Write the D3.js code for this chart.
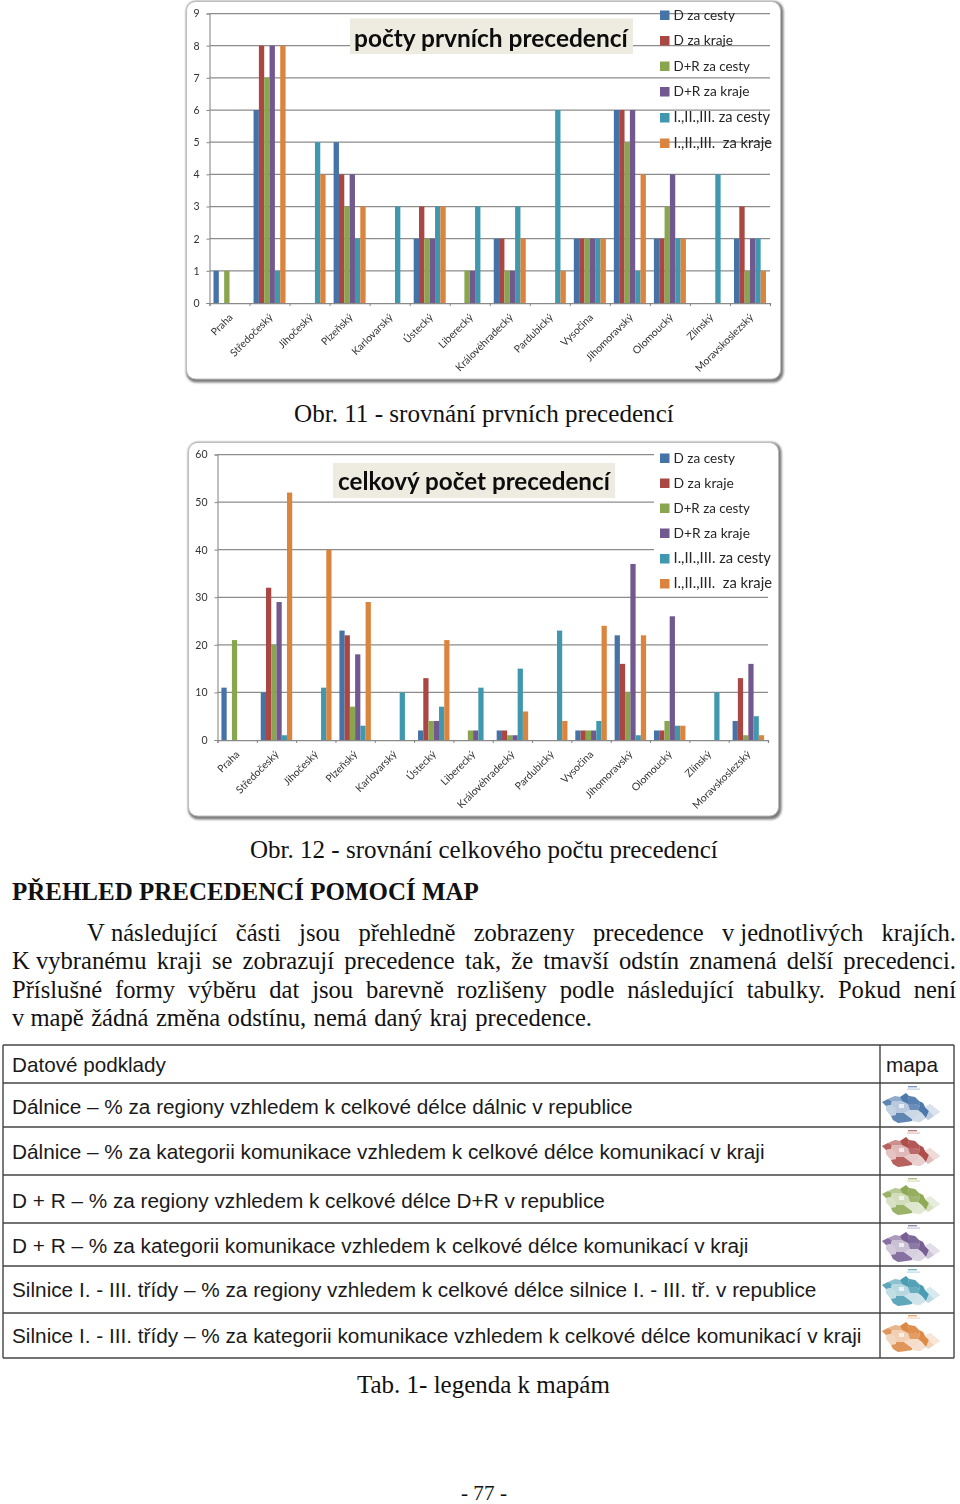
<!DOCTYPE html>
<html><head><meta charset="utf-8">
<script src="https://cdn.jsdelivr.net/npm/d3@7"></script>
<style>html,body{margin:0;padding:0;background:#fff}svg{display:block}</style>
</head><body><svg id="c" width="960" height="1504"></svg>
<script>
const categories=["Praha","Středočeský","Jihočeský","Plzeňský","Karlovarský","Ústecký","Liberecký","Královéhradecký","Pardubický","Vysočina","Jihomoravský","Olomoucký","Zlínský","Moravskoslezský"];
const seriesNames=["D za cesty","D za kraje","D+R za cesty","D+R za kraje","I.,II.,III. za cesty","I.,II.,III.  za kraje"];
const seriesColors=["#4572a7","#aa4643","#89a54e","#71588f","#4198af","#db843d"];
const firstDCesty=[1,6,0,5,0,2,0,2,0,2,6,2,0,2];
const firstDKraje=[0,8,0,4,0,3,0,2,0,2,6,2,0,3];
const firstDRCesty=[1,7,0,3,0,2,1,1,0,2,5,3,0,1];
const firstDRKraje=[0,8,0,4,0,2,1,1,0,2,6,4,0,2];
const firstICesty=[0,1,5,2,3,3,3,3,6,2,1,2,4,2];
const firstIKraje=[0,8,4,3,0,3,0,2,1,2,4,2,0,1];
const totalDCesty=[11,10,0,23,0,2,0,2,0,2,22,2,0,4];
const totalDKraje=[0,32,0,22,0,13,0,2,0,2,16,2,0,13];
const totalDRCesty=[21,20,0,7,0,4,2,1,0,2,10,4,0,1];
const totalDRKraje=[0,29,0,18,0,4,2,1,0,2,37,26,0,16];
const totalICesty=[0,1,11,3,10,7,11,15,23,4,1,3,10,5];
const totalIKraje=[0,52,40,29,0,21,0,6,4,24,22,3,0,1];
const tableRows=["Datové podklady","Dálnice – % za regiony vzhledem k celkové délce dálnic v republice","Dálnice – % za kategorii komunikace vzhledem k celkové délce komunikací v kraji","D + R – % za regiony vzhledem k celkové délce D+R v republice","D + R – % za kategorii komunikace vzhledem k celkové délce komunikací v kraji","Silnice I. - III. třídy – % za regiony vzhledem k celkové délce silnice I. - III. tř. v republice","Silnice I. - III. třídy – % za kategorii komunikace vzhledem k celkové délce komunikací v kraji"];
const bodyLines=["V\u00a0následující části jsou přehledně zobrazeny precedence v\u00a0jednotlivých krajích.","K\u00a0vybranému kraji se zobrazují precedence tak, že tmavší odstín znamená delší precedenci.","Příslušné formy výběru dat jsou barevně rozlišeny podle následující tabulky. Pokud není","v\u00a0mapě žádná změna odstínu, nemá daný kraj precedence."];
// rough outline of the regions in the little map icons, with the tone of each
const mapOutline=[[0,9],[6,6],[13,3],[18,4],[24,0],[27,3],[33,4],[37,8],[41,10],[43,14],[48,11],[58,19],[52,23],[46,27],[44,25],[38,29],[30,28],[24,29],[16,30],[11,27],[9,23],[4,17],[4,13]];
const mapRegions=[
{t:.85,p:[[0,9],[6,6],[10,8],[9,12],[4,13]]},
{t:.32,p:[[4,13],[9,12],[13,15],[14,20],[14,22],[9,23],[4,17]]},
{t:.6,p:[[6,6],[13,3],[18,4],[20,8],[10,8]]},
{t:.38,p:[[10,8],[20,8],[26,11],[28,17],[22,20],[14,20],[13,15],[9,12]]},
{t:.12,p:[[17,11],[22,11],[22,15],[17,15]]},
{t:.85,p:[[14,20],[22,20],[26,23],[30,26],[30,28],[24,29],[16,30],[11,27],[9,23],[14,22]]},
{t:.95,p:[[18,4],[24,0],[27,3],[26,7],[26,11],[20,8]]},
{t:.9,p:[[26,7],[27,3],[33,4],[37,8],[38,13],[33,11],[26,11]]},
{t:.8,p:[[26,11],[33,11],[38,13],[36,17],[28,17]]},
{t:.28,p:[[28,17],[36,17],[36,22],[30,26],[26,23],[22,20]]},
{t:.25,p:[[36,17],[40,20],[44,25],[38,29],[30,28],[30,26],[36,22]]},
{t:.95,p:[[37,8],[41,10],[43,14],[47,18],[44,25],[40,20],[36,17],[38,13]]},
{t:.35,p:[[47,18],[52,23],[46,27],[44,25]]},
{t:.2,p:[[43,14],[48,11],[58,19],[52,23],[47,18]]}];

const svg=d3.select("#c");
const defs=svg.append("defs");
defs.append("filter").attr("id","soft").attr("x","-20%").attr("y","-40%").attr("width","140%").attr("height","180%")
  .append("feGaussianBlur").attr("stdDeviation",.7);
defs.append("filter").attr("id","sh").attr("x","-5%").attr("y","-5%").attr("width","110%").attr("height","110%")
  .append("feGaussianBlur").attr("stdDeviation",.8);
defs.append("filter").attr("id","jpeg").attr("x","-2%").attr("y","-2%").attr("width","104%").attr("height","104%")
  .append("feGaussianBlur").attr("stdDeviation",.3);
const calibri="Lato,'Open Sans',sans-serif", serif="'Liberation Serif',serif", sans="'Liberation Sans',sans-serif";

function fitText(s,x0,x1,base,font,opt={}){
  const parent=opt.parent||svg;
  const t=parent.append("text").attr("x",x0).attr("y",base).attr("font-family",font).attr("font-size",20)
    .attr("font-weight",opt.weight||400).attr("fill",opt.fill||"#111").style("white-space","pre").text(s);
  const w=t.node().getComputedTextLength();
  t.attr("font-size",20*(x1-x0)/w);
  return t;
}
function chart(cfg){
  const g=svg.append("g").attr("filter","url(#jpeg)");
  g.append("rect").attr("x",cfg.fx0).attr("y",cfg.fy0).attr("width",cfg.fx1-cfg.fx0+1.5).attr("height",cfg.fy1-cfg.fy0+1.5).attr("rx",10).attr("fill","#7c7c7c").attr("filter","url(#sh)");
  g.append("rect").attr("x",cfg.fx0+.5).attr("y",cfg.fy0+.5).attr("width",cfg.fx1-cfg.fx0-2).attr("height",cfg.fy1-cfg.fy0-2.5).attr("rx",9).attr("fill","#fff").attr("stroke","#bdbdbd").attr("stroke-width",1);
  const y=d3.scaleLinear().domain([0,cfg.max]).range([cfg.y0,cfg.y1]);
  const x=d3.scaleBand().domain(categories).range([cfg.x0,cfg.x1]).paddingInner(.2).paddingOuter(.1);
  const xs=d3.scaleBand().domain(d3.range(6)).range([0,x.bandwidth()]);
  const ga=g.append("g").attr("transform",`translate(${cfg.x0},0)`)
    .call(d3.axisLeft(y).tickValues(d3.range(0,cfg.max+1,cfg.step)).tickSize(3).tickPadding(7));
  ga.selectAll("text").attr("font-family",calibri).attr("font-size",10.5).attr("fill","#333");
  ga.selectAll("line").attr("stroke","#858585");ga.select(".domain").attr("stroke","#8a8a8a").attr("stroke-width",1.1);
  g.append("g").selectAll("line").data(d3.range(cfg.step,cfg.max+1,cfg.step)).join("line")
    .attr("x1",cfg.x0).attr("x2",cfg.x1).attr("y1",d=>y(d)).attr("y2",d=>y(d)).attr("stroke","#8c8c8c").attr("stroke-width",1.25);
  if(cfg.legendBg) g.append("rect").attr("x",cfg.legendBg[0]).attr("y",cfg.legendBg[1]).attr("width",cfg.legendBg[2]).attr("height",cfg.legendBg[3]).attr("fill","#fff");
  cfg.series.forEach((vals,si)=>{
    g.append("g").selectAll("rect").data(vals.map((v,i)=>({v,c:categories[i]}))).join("rect")
      .attr("x",d=>x(d.c)+xs(si)).attr("width",xs.bandwidth()).attr("y",d=>y(d.v)).attr("height",d=>y(0)-y(d.v)).attr("fill",seriesColors[si]);
  });
  const xt=d3.scaleLinear().domain([0,categories.length]).range([cfg.x0,cfg.x1]);
  const gx=g.append("g").attr("transform",`translate(0,${cfg.y0})`).call(d3.axisBottom(xt).ticks(categories.length).tickSize(3).tickFormat(""));
  gx.selectAll("line").attr("stroke","#858585");gx.select(".domain").attr("stroke","#8a8a8a").attr("stroke-width",1.25);
  const gl=g.append("g").attr("transform",`translate(0,${cfg.y0})`).call(d3.axisBottom(x).tickSize(0).tickPadding(0));
  gl.select(".domain").remove();
  gl.selectAll("text").attr("font-family",calibri).attr("font-size",10.4).attr("fill","#333").attr("text-anchor","end").attr("dy",0).attr("y",0)
    .attr("transform",`translate(${cfg.lab[0]},${cfg.lab[1]}) rotate(-45)`);
  const [tx0,ty0,tx1,ty1]=cfg.titleBox;
  g.append("rect").attr("x",tx0).attr("y",ty0).attr("width",tx1-tx0).attr("height",ty1-ty0).attr("fill","#eeece1");
  fitText(cfg.title,cfg.titleX[0],cfg.titleX[1],cfg.titleBase,calibri,{weight:700,fill:"#0d0d0d",parent:g});
  seriesNames.forEach((n,i)=>{
    const ly=cfg.legendY[i];
    g.append("rect").attr("x",cfg.legX).attr("y",ly-4.5).attr("width",9.5).attr("height",9.5).attr("fill",seriesColors[i]);
    fitText(n,cfg.legX+13.5,cfg.legEnd[i],ly+4.5,calibri,{fill:"#262626",parent:g});
  });
}
chart({fx0:186,fy0:1,fx1:782,fy1:381,x0:209.5,x1:770,y0:303,y1:13.5,max:9,step:1,lab:[4,15],
  series:[firstDCesty,firstDKraje,firstDRCesty,firstDRKraje,firstICesty,firstIKraje],
  title:"počty prvních precedencí",titleBox:[350,18.5,633,54],titleX:[354,628],titleBase:47,
  legX:660,legendY:[15,40.5,66,91.5,117.5,143],legEnd:[735,733,750,749.5,770,772]});
chart({fx0:188,fy0:442,fx1:780,fy1:818,x0:217.5,x1:768,y0:740,y1:454.5,max:60,step:10,lab:[3,15],
  series:[totalDCesty,totalDKraje,totalDRCesty,totalDRKraje,totalICesty,totalIKraje],
  title:"celkový počet precedencí",titleBox:[333,463,615,498],titleX:[338,610],titleBase:490,
  legendBg:[654,446,118,150],
  legX:660,legendY:[458,483,508,533,558.5,583.5],legEnd:[735,734,750,750,771,772]});

fitText("Obr. 11 - srovnání prvních precedencí",294,674,422,serif);
fitText("Obr. 12 - srovnání celkového počtu precedencí",250,718,858,serif);
fitText("PŘEHLED PRECEDENCÍ POMOCÍ MAP",12,479,899.5,serif,{weight:700});
const bodySize=24.6;
[[87,956,941],[12,956,969],[12,956,998],[12,592,1026]].forEach(([a,b,base],i)=>{
  const words=bodyLines[i].split(" ");
  const els=words.map(w=>svg.append("text").attr("y",base).attr("font-family",serif).attr("font-size",bodySize).attr("fill","#111").text(w));
  const ws=els.map(e=>e.node().getComputedTextLength());
  const gap=(b-a-d3.sum(ws))/(words.length-1);
  let px=a;els.forEach((e,k)=>{e.attr("x",px);px+=ws[k]+gap;});
});
fitText("Tab. 1- legenda k mapám",357,610,1393,serif);
fitText("- 77 -",461,507,1500,serif);

const rowY=[1045,1083,1127,1175,1223,1266,1313,1358];
const tbl=svg.append("g").attr("stroke","#444");
rowY.forEach(v=>tbl.append("line").attr("x1",3).attr("x2",954).attr("y1",v).attr("y2",v).attr("stroke-width",1.4));
[3,880,954].forEach(v=>tbl.append("line").attr("x1",v).attr("x2",v).attr("y1",1045).attr("y2",1358).attr("stroke-width",1.4));
const rowBase=[1072,1114,1159,1208,1253,1297,1343], rowEnd=[166,633,765,605,749,817,862];
tableRows.forEach((r,i)=>fitText(r,12,rowEnd[i],rowBase[i],sans,{fill:"#1a1a1a"}));
fitText("mapa",886,938,1072,sans,{fill:"#1a1a1a"});

const mapTop=[1093,1137,1185,1232,1276,1322];
const mx=d3.scaleLinear().domain([0,58]).range([0,58]), my=d3.scaleLinear().domain([0,30]).range([0,30]);
const ln=d3.line().x(d=>mx(d[0])).y(d=>my(d[1])).curve(d3.curveLinearClosed);
seriesColors.forEach((col,i)=>{
  const m=svg.append("g").attr("transform",`translate(882,${mapTop[i]})`).attr("filter","url(#soft)");
  const tone=d3.interpolateRgb("#ffffff",col);
  m.append("path").attr("d",ln(mapOutline)).attr("fill",tone(.25));
  m.selectAll(".r").data(mapRegions).join("path").attr("class","r").attr("d",d=>ln(d.p)).attr("fill",d=>tone(d.t));
  m.append("rect").attr("x",26).attr("y",-7).attr("width",9).attr("height",1.4).attr("fill",col).attr("opacity",.7);
  m.append("rect").attr("x",25).attr("y",-4.5).attr("width",13).attr("height",1.2).attr("fill",col).attr("opacity",.35);
});
</script></body></html>
